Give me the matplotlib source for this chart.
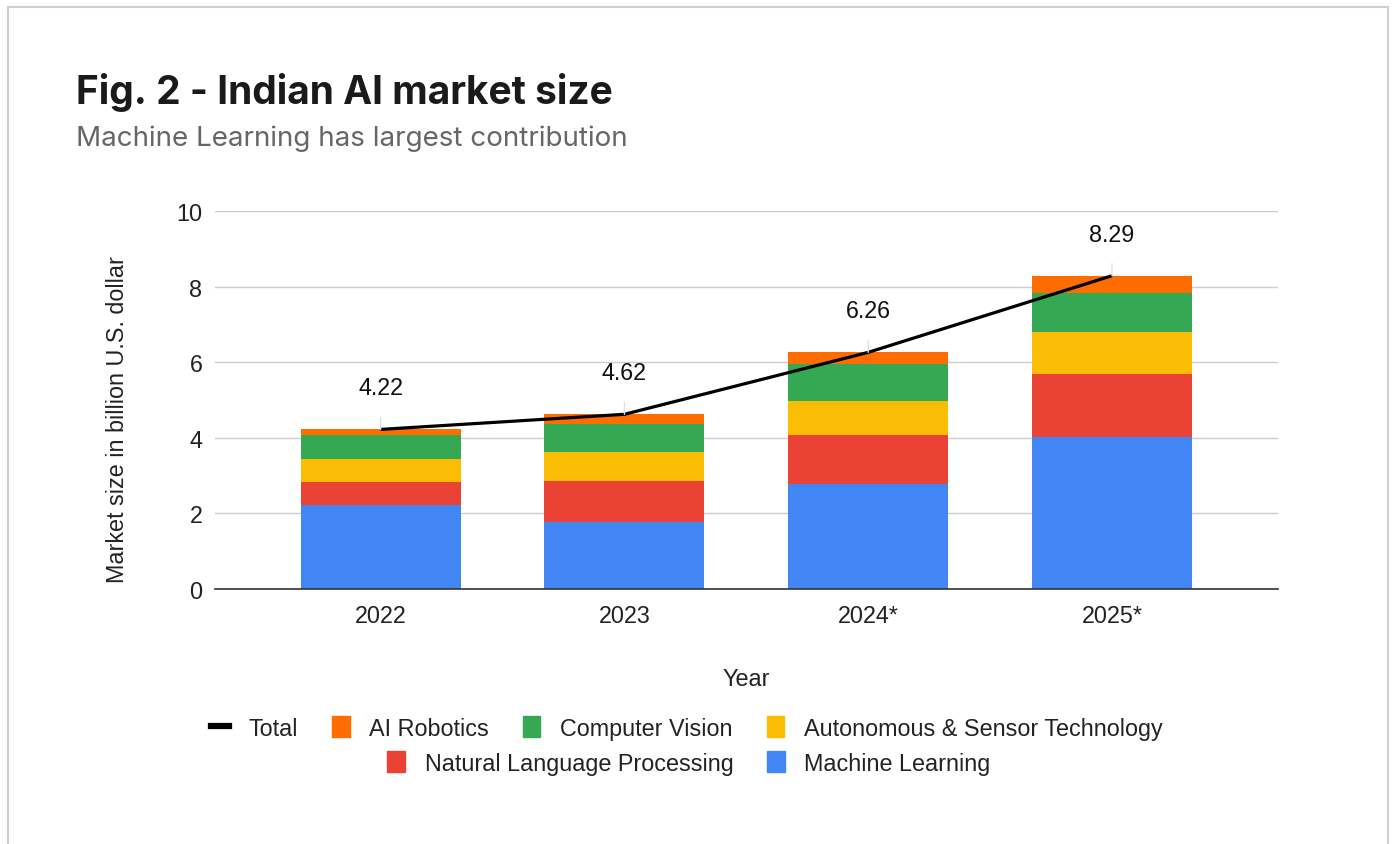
import matplotlib
matplotlib.use("Agg")
import matplotlib.pyplot as plt
from matplotlib.patches import Rectangle
from matplotlib.lines import Line2D
from matplotlib.patches import Patch

# data
years = ["2022", "2023", "2024*", "2025*"]
machine_learning = [2.23, 1.77, 2.78, 4.03]
nlp = [0.60, 1.09, 1.30, 1.66]
autonomous = [0.61, 0.76, 0.89, 1.12]
computer_vision = [0.64, 0.75, 0.98, 1.03]
ai_robotics = [0.14, 0.25, 0.31, 0.45]
totals = [4.22, 4.62, 6.26, 8.29]

series = [
    ("Machine Learning", machine_learning, "#4285F4"),
    ("Natural Language Processing", nlp, "#EA4335"),
    ("Autonomous & Sensor Technology", autonomous, "#FBBC04"),
    ("Computer Vision", computer_vision, "#34A853"),
    ("AI Robotics", ai_robotics, "#FF6D01"),
]

plt.rcParams['font.family'] = ['Liberation Sans', 'DejaVu Sans']
FS = 16.8

fig = plt.figure(figsize=(13.95, 8.45), dpi=100)
ax = fig.add_axes([0.154, 0.302, 0.762, 0.447])

x = list(range(len(years)))
bottom = [0.0] * len(years)
for name, vals, col in series:
    ax.bar(x, vals, width=0.656, bottom=bottom, color=col, label=name, zorder=2)
    bottom = [b + v for b, v in zip(bottom, vals)]

ax.plot(x, totals, color="black", linewidth=2.3, zorder=3, solid_capstyle='butt')
for xi, t in zip(x, totals):
    ax.annotate(f"{t:.2f}", xy=(xi, t), xytext=(0, 30), textcoords='offset points',
                ha='center', va='center', fontsize=FS, color='#111111',
                arrowprops=dict(arrowstyle='-', color='#e0e0e0', lw=1,
                                shrinkA=11, shrinkB=0), zorder=4)

ax.set_xlim(-0.68, 3.68)
ax.set_ylim(0, 10)
ax.set_yticks([0, 2, 4, 6, 8, 10])
ax.set_xticks(x)
ax.set_xticklabels(years)
ax.tick_params(axis='both', length=0, labelsize=FS, colors='#222222')
ax.tick_params(axis='x', pad=11)
ax.tick_params(axis='y', pad=9)
ax.grid(axis='y', color='#cccccc', linewidth=1, zorder=0)
ax.set_axisbelow(True)
for s in ['top', 'right', 'left']:
    ax.spines[s].set_visible(False)
ax.spines['bottom'].set_color('#333333')
ax.spines['bottom'].set_linewidth(1.2)
ax.spines['bottom'].set_zorder(5)

ax.set_xlabel("Year", fontsize=FS, color='#222222', labelpad=29)
ax.set_ylabel("Market size in billion U.S. dollar", fontsize=FS, color='#222222', labelpad=34)
ax.yaxis.label.set_y(0.45)

fig.text(76 / 1395, 1 - 93 / 845, "Fig. 2 - Indian AI market size", fontsize=28,
         fontweight='bold', family=['Inter', 'DejaVu Sans'], color='#1a1a1a', va='center')
fig.text(76 / 1395, 1 - 139 / 845, "Machine Learning has largest contribution", fontsize=20,
         family=['Inter', 'DejaVu Sans'], color='#666666', va='center')

# legends (two centered rows)
colors = {name: col for name, _, col in series}
row1 = [Line2D([0], [0], color='black', linewidth=4.5),
        Patch(color=colors["AI Robotics"]),
        Patch(color=colors["Computer Vision"]),
        Patch(color=colors["Autonomous & Sensor Technology"])]
lab1 = ["Total", "AI Robotics", "Computer Vision", "Autonomous & Sensor Technology"]
row2 = [Patch(color=colors["Natural Language Processing"]),
        Patch(color=colors["Machine Learning"])]
lab2 = ["Natural Language Processing", "Machine Learning"]
leg_kw = dict(frameon=False, fontsize=FS, handlelength=0.75, handleheight=0.95,
              handletextpad=0.85, columnspacing=1.45, labelcolor='#222222')
fig.legend(row1, lab1, ncol=4, loc='center', bbox_to_anchor=(687 / 1395, 1 - 729 / 845), **leg_kw)
fig.legend(row2, lab2, ncol=2, loc='center', bbox_to_anchor=(689 / 1395, 1 - 764 / 845), **leg_kw)

# card border
fig.patches.append(Rectangle((8 / 1395, -0.05), 1380 / 1395, 1.05 - 8 / 845,
                             transform=fig.transFigure, fill=False,
                             edgecolor='#d0d0d0', linewidth=1.5))

fig.savefig("out.png", dpi=100)
